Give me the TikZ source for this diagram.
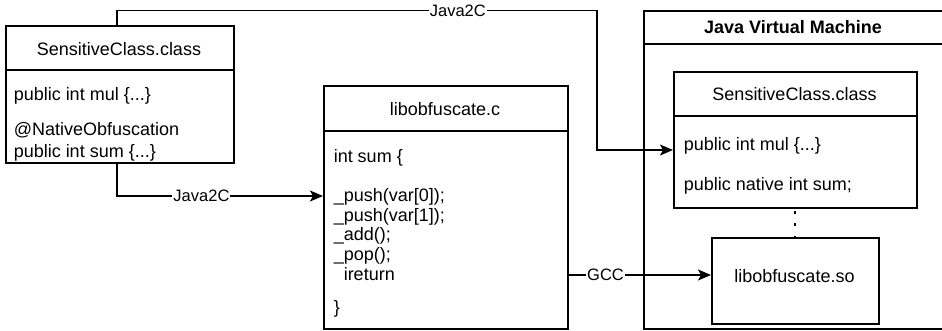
\documentclass[tikz,border=0pt]{standalone}
\usepackage{fontspec}
\setmainfont{Liberation Sans}
\usetikzlibrary{arrows.meta}
\begin{document}
\begin{tikzpicture}[x=1pt,y=-1pt, line width=1.5pt,
  box/.style={draw, line width=1.5pt, inner sep=0pt, anchor=north west},
  txt/.style={anchor=base west, inner sep=0pt, font=\fontsize{18}{22}\selectfont},
  ctxt/.style={anchor=base, inner sep=0pt, font=\fontsize{18}{22}\selectfont},
  lbl/.style={fill=white, inner sep=1pt, font=\fontsize{16.5}{20}\selectfont},
  arr/.style={-{Stealth[length=13pt,width=11pt,inset=3pt]}, line width=1.5pt},
  dots/.style={line width=1.8pt, dash pattern=on 3pt off 9.5pt}]
\useasboundingbox (0,0) rectangle (942,330);
% boxes
\node[box, minimum width=228pt, minimum height=137pt] (sc) at (5,25) {};
\node[box, minimum width=244pt, minimum height=243pt] (mc) at (323,85) {};
\node[box, minimum width=310pt, minimum height=318pt] (jvm) at (643,10) {};
\node[box, minimum width=243pt, minimum height=136pt] (jc) at (673,71) {};
\node[box, minimum width=167pt, minimum height=86pt] (so) at (711,237) {};
% header lines
\coordinate (h1) at (0,70);
\coordinate (h2) at (0,131);
\coordinate (h3) at (0,44);
\coordinate (h4) at (0,116);
\draw (sc.west |- h1) -- (sc.east |- h1);
\draw (mc.west |- h2) -- (mc.east |- h2);
\draw (jvm.west |- h3) -- (jvm.east |- h3);
\draw (jc.west |- h4) -- (jc.east |- h4);
% left class texts
\node[ctxt] (sct) at (119,55) {SensitiveClass.class};
\node[txt] (sc1) at (13,100) {public int mul \{...\}};
\node[txt] (sc2) at (13,135) {@NativeObfuscation};
\node[txt] (sc3) at (13,157) {public int sum \{...\}};
% middle texts
\node[ctxt] (mct) at (445,115) {libobfuscate.c};
\node[txt] (m1) at (333,162) {int sum \{};
\node[txt] (m2) at (333,201.5) {\_push(var[0]);};
\node[txt] (m3) at (333,221.2) {\_push(var[1]);};
\node[txt] (m4) at (333,240.9) {\_add();};
\node[txt] (m5) at (333,260.6) {\_pop();};
\node[txt] (m6) at (343,280.3) {ireturn};
\node[txt] (m7) at (333,313) {\}};
% jvm texts
\node[ctxt, font=\fontsize{18}{22}\selectfont\bfseries] (jvmt) at (793,33) {Java Virtual Machine};
\node[ctxt] (jct) at (794.5,100) {SensitiveClass.class};
\node[txt] (j1) at (683,150) {public int mul \{...\}};
\node[txt] (j2) at (683,190) {public native int sum;};
\node[ctxt] (sot) at (794.5,282) {libobfuscate.so};
% connectors
\coordinate (b1) at (117,10.5);
\coordinate (b2) at (597,10.5);
\coordinate (b3) at (597,150);
\draw[arr] (sc.north -| b1) -- (b1) -- node[lbl, pos=0.71] (l1) {Java2C} (b2) -- (b3) -- (jc.west |- b3);
\coordinate (c1) at (117,196);
\draw[arr] (sc.south -| c1) -- (c1) -- node[lbl, pos=0.41] (l2) {Java2C} (mc.west |- c1);
\coordinate (g1) at (0,275);
\draw[arr] (mc.east |- g1) -- node[lbl, pos=0.26] (l3) {GCC} (so.west |- g1);
\draw[dots] ([yshift=-2pt]jc.south) -- (so.north);
\end{tikzpicture}
\end{document}
